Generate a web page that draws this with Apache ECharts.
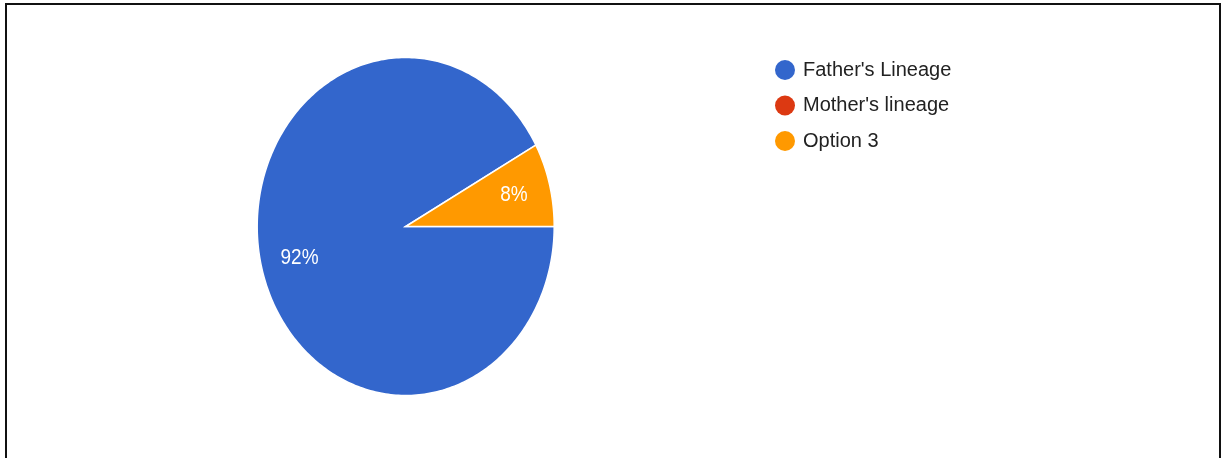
<!DOCTYPE html>
<html>
<head>
<meta charset="utf-8">
<script src="https://cdn.jsdelivr.net/npm/echarts@6/dist/echarts.min.js"></script>
<style>
  html, body { margin: 0; padding: 0; background: #fff; }
  #chart { position: absolute; left: 0; top: 0; width: 1222px; height: 458px; }
  #frame {
    position: absolute; left: 5px; top: 3px; width: 1212px; height: 470px;
    border: 2px solid #111; pointer-events: none;
  }
</style>
</head>
<body>
<div id="chart"></div>
<div id="frame"></div>
<script>
// Survey answers
const categories = ["Father's Lineage", "Mother's lineage", "Option 3"];
const values = [92, 0, 8];
const colors = ['#3366cc', '#dc3912', '#ff9900'];

const total = values.reduce((s, v) => s + v, 0);
// cumulative [start, end] fractions of the whole, in answer order
const spans = [];
let acc = 0;
values.forEach((v) => {
  spans.push([acc / total, (acc + v) / total, v]);
  acc += v;
});

const FONT = "'Liberation Sans', Arial, sans-serif";

// One elliptical slice: starts at 3 o'clock and runs clockwise.
function renderSlice(params, api) {
  const f0 = api.value(0), f1 = api.value(1), v = api.value(2);
  if (!(f1 > f0)) return null;
  const a0 = f0 * Math.PI * 2, a1 = f1 * Math.PI * 2;
  const steps = Math.max(2, Math.ceil((a1 - a0) / (Math.PI / 180)));
  const pts = [api.coord([0, 0])];
  for (let i = 0; i <= steps; i++) {
    const a = a0 + (a1 - a0) * i / steps;
    pts.push(api.coord([Math.cos(a), -Math.sin(a)]));
  }
  const mid = (a0 + a1) / 2;
  const lp = api.coord([0.745 * Math.cos(mid), -0.745 * Math.sin(mid)]);
  return {
    type: 'group',
    children: [
      {
        type: 'polygon',
        shape: { points: pts },
        style: { fill: api.visual('color'), stroke: '#ffffff', lineWidth: 1.5 }
      },
      {
        type: 'text',
        x: lp[0] + 1, y: lp[1],
        scaleY: 1.15,
        style: {
          text: Math.round(v / total * 100) + '%',
          fill: '#ffffff',
          font: '19px ' + FONT,
          align: 'center',
          verticalAlign: 'middle'
        }
      }
    ]
  };
}

const chart = echarts.init(document.getElementById('chart'), null, { renderer: 'canvas' });
chart.setOption({
  animation: false,
  backgroundColor: '#ffffff',
  grid: { left: 257.2, top: 57.5, width: 297, height: 338 },
  xAxis: { type: 'value', min: -1, max: 1, show: false },
  yAxis: { type: 'value', min: -1, max: 1, show: false },
  legend: {
    orient: 'vertical',
    left: 770,
    top: 55,
    icon: 'circle',
    itemWidth: 20,
    itemHeight: 20,
    itemGap: 15.5,
    data: categories,
    textStyle: { fontSize: 20, color: '#222222', fontFamily: FONT, padding: [0, 0, 0, 3] }
  },
  series: categories.map((name, i) => ({
    type: 'custom',
    name: name,
    silent: true,
    itemStyle: { color: colors[i] },
    renderItem: renderSlice,
    encode: { x: 0, y: 1 },
    data: [spans[i]]
  }))
});
</script>
</body>
</html>
